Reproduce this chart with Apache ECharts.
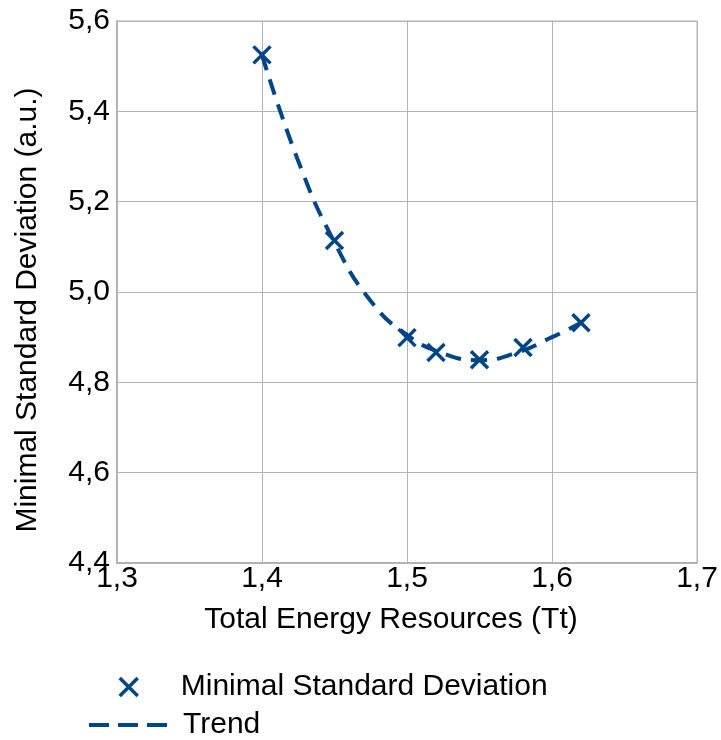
<!DOCTYPE html>
<html>
<head>
<meta charset="utf-8">
<script src="https://cdn.jsdelivr.net/npm/echarts@6/dist/echarts.min.js"></script>
<style>html,body{margin:0;padding:0;background:#fff;}#c{width:721px;height:740px;}</style>
</head>
<body>
<div id="c"></div>
<script>
const pointX = [1.40, 1.45, 1.50, 1.52, 1.55, 1.58, 1.62];
const pointY = [5.525, 5.114, 4.899, 4.866, 4.850, 4.877, 4.932];
const trendX = [1.40, 1.425, 1.45, 1.475, 1.50, 1.525, 1.55, 1.575, 1.60, 1.62];
const trendY = [5.525, 5.29, 5.11, 4.98, 4.905, 4.864, 4.849, 4.865, 4.900, 4.932];
const xTicks = [1.3, 1.4, 1.5, 1.6, 1.7];
const yTicks = [4.4, 4.6, 4.8, 5.0, 5.2, 5.4, 5.6];

const fmt = v => Number(v).toFixed(1).replace('.', ',');
const blue = '#004586';
const gridGray = '#b3b3b3';
const font = 'Liberation Sans';
const fs = 30;

const chart = echarts.init(document.getElementById('c'), null, {renderer: 'canvas'});
chart.setOption({
  animation: false,
  backgroundColor: '#fff',
  grid: {left: 117, right: 24, top: 21, bottom: 177, show: true, borderColor: gridGray, borderWidth: 1},
  xAxis: {
    type: 'value', min: xTicks[0], max: xTicks[xTicks.length - 1], interval: 0.1,
    name: 'Total Energy Resources (Tt)', nameLocation: 'middle', nameGap: 42,
    nameTextStyle: {fontFamily: font, fontSize: fs, color: '#000', padding: [0, 32, 0, 0]},
    axisLine: {lineStyle: {color: gridGray, width: 2}},
    axisTick: {show: false},
    splitLine: {show: true, lineStyle: {color: gridGray, width: 1}},
    axisLabel: {formatter: fmt, fontFamily: font, fontSize: fs, color: '#000', margin: 1}
  },
  yAxis: {
    type: 'value', min: yTicks[0], max: yTicks[yTicks.length - 1], interval: 0.2,
    name: 'Minimal Standard Deviation (a.u.)', nameLocation: 'middle', nameGap: 74,
    nameTextStyle: {fontFamily: font, fontSize: fs, color: '#000', padding: [0, 36, 0, 0]},
    axisLine: {lineStyle: {color: gridGray, width: 2}},
    axisTick: {show: false},
    splitLine: {show: true, lineStyle: {color: gridGray, width: 1}},
    axisLabel: {formatter: fmt, fontFamily: font, fontSize: fs, color: '#000', margin: 7}
  },
  legend: [
    {
      left: 113, top: 667, itemWidth: 18, itemHeight: 18,
      itemStyle: {borderColor: blue, borderWidth: 3.5},
      textStyle: {fontFamily: font, fontSize: fs, color: '#000', padding: [0, 0, 0, 38]},
      data: [{name: 'Minimal Standard Deviation'}]
    },
    {
      left: 84, top: 705, itemWidth: 78, itemHeight: 4,
      itemStyle: {borderWidth: 0},
      textStyle: {fontFamily: font, fontSize: fs, color: '#000', padding: [0, 0, 0, 11]},
      data: [{name: 'Trend', icon: 'path://M0,0h20v4h-20zM29,0h20v4h-20zM58,0h20v4h-20z'}]
    }
  ],
  series: [
    {
      name: 'Trend', type: 'line', smooth: 0.5, showSymbol: false, symbol: 'none',
      data: trendX.map((x, i) => [x, trendY[i]]),
      lineStyle: {color: blue, width: 4, type: [16, 10]},
      itemStyle: {color: blue}, z: 2
    },
    {
      name: 'Minimal Standard Deviation', type: 'scatter',
      symbol: 'path://M0,0L10,10M10,0L0,10', symbolSize: 17, symbolKeepAspect: true,
      data: pointX.map((x, i) => [x, pointY[i]]),
      itemStyle: {color: blue, borderColor: blue, borderWidth: 3.5, opacity: 1}, z: 3
    }
  ]
});
</script>
</body>
</html>
